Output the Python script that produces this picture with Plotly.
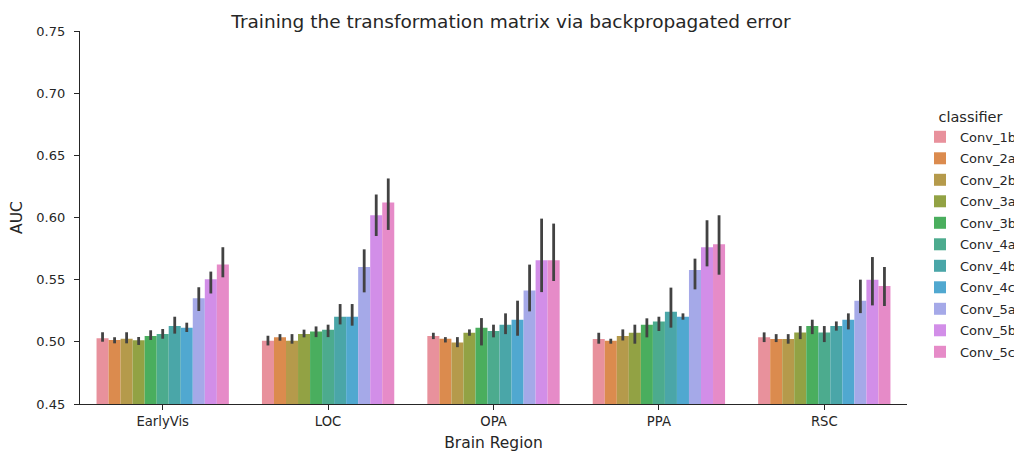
import plotly.graph_objects as go

regions = ["EarlyVis", "LOC", "OPA", "PPA", "RSC"]
classifiers = ["Conv_1b", "Conv_2a", "Conv_2b", "Conv_3a", "Conv_3b", "Conv_4a",
               "Conv_4b", "Conv_4c", "Conv_5a", "Conv_5b", "Conv_5c"]
colors = ["#e8919c", "#db8b4e", "#b59a4b", "#92a244", "#4aae5e", "#4cab8e",
          "#4aa6a8", "#50a8d0", "#a5a9e8", "#d28ee8", "#e68bc8"]

# mean AUC per classifier, one value per region (EarlyVis, LOC, OPA, PPA, RSC)
auc = {
    "Conv_1b": [0.5029, 0.5009, 0.5046, 0.5022, 0.5036],
    "Conv_2a": [0.5015, 0.5036, 0.5025, 0.5009, 0.5022],
    "Conv_2b": [0.5025, 0.5009, 0.4995, 0.5046, 0.5022],
    "Conv_3a": [0.5012, 0.5062, 0.5073, 0.5073, 0.5076],
    "Conv_3b": [0.5047, 0.5084, 0.5114, 0.5138, 0.5127],
    "Conv_4a": [0.5063, 0.5098, 0.5087, 0.5164, 0.5076],
    "Conv_4b": [0.5128, 0.5202, 0.5138, 0.5242, 0.5127],
    "Conv_4c": [0.5114, 0.5202, 0.5178, 0.5202, 0.5178],
    "Conv_5a": [0.5350, 0.5602, 0.5412, 0.5578, 0.5331],
    "Conv_5b": [0.5503, 0.6018, 0.5656, 0.5760, 0.5500],
    "Conv_5c": [0.5621, 0.6120, 0.5656, 0.5784, 0.5449],
}
# confidence interval upper / lower bounds
ci_high = {
    "Conv_1b": [0.5077, 0.5049, 0.5073, 0.5073, 0.5076],
    "Conv_2a": [0.5037, 0.5062, 0.5038, 0.5025, 0.5062],
    "Conv_2b": [0.5077, 0.5062, 0.5038, 0.5100, 0.5062],
    "Conv_3a": [0.5039, 0.5098, 0.5100, 0.5138, 0.5127],
    "Conv_3b": [0.5093, 0.5124, 0.5191, 0.5189, 0.5178],
    "Conv_4a": [0.5103, 0.5138, 0.5138, 0.5202, 0.5127],
    "Conv_4b": [0.5202, 0.5304, 0.5229, 0.5436, 0.5164],
    "Conv_4c": [0.5154, 0.5304, 0.5331, 0.5229, 0.5229],
    "Conv_5a": [0.5439, 0.5744, 0.5621, 0.5669, 0.5500],
    "Conv_5b": [0.5565, 0.6185, 0.5991, 0.5978, 0.5682],
    "Conv_5c": [0.5761, 0.6314, 0.5951, 0.6018, 0.5602],
}
ci_low = {
    "Conv_1b": [0.5001, 0.4971, 0.5022, 0.4985, 0.4998],
    "Conv_2a": [0.4988, 0.5009, 0.4995, 0.4985, 0.4998],
    "Conv_2b": [0.4988, 0.4985, 0.4957, 0.5011, 0.4985],
    "Conv_3a": [0.4975, 0.5036, 0.5049, 0.4985, 0.5022],
    "Conv_3b": [0.5015, 0.5038, 0.4971, 0.5036, 0.5062],
    "Conv_4a": [0.5025, 0.5038, 0.5036, 0.5087, 0.4998],
    "Conv_4b": [0.5066, 0.5140, 0.5062, 0.5114, 0.5090],
    "Conv_4c": [0.5079, 0.5130, 0.5049, 0.5178, 0.5100],
    "Conv_5a": [0.5248, 0.5398, 0.5245, 0.5422, 0.5231],
    "Conv_5b": [0.5389, 0.5851, 0.5400, 0.5607, 0.5293],
    "Conv_5c": [0.5519, 0.5900, 0.5489, 0.5540, 0.5288],
}
yticks = [0.45, 0.50, 0.55, 0.60, 0.65, 0.70, 0.75]

FONT = "DejaVu Sans"
# the page body has an 8px margin, so the figure is 8px smaller on each axis
W, H = 1014, 445
ML, MR, MT, MB = 72, 115, 23, 49
PW = W - ML - MR
fig = go.Figure()
for name, col in zip(classifiers, colors):
    vals = auc[name]
    hi = [h - v for h, v in zip(ci_high[name], vals)]
    lo = [v - l for l, v in zip(ci_low[name], vals)]
    fig.add_trace(go.Bar(
        x=regions, y=vals, name=name, legendgroup=name,
        marker=dict(color=col, line=dict(width=0)),
        error_y=dict(type="data", symmetric=False, array=hi, arrayminus=lo,
                     color="#424242", thickness=2.8, width=0),
    ))

fig.update_layout(
    width=W, height=H,
    margin=dict(l=ML, r=MR, t=MT, b=MB, autoexpand=False),
    plot_bgcolor="white", paper_bgcolor="white",
    barmode="group", bargap=0.2, bargroupgap=0,
    font=dict(family=FONT, size=13, color="#262626"),
    title=dict(text="Training the transformation matrix via backpropagated error",
               x=503 / W, xref="container", xanchor="center",
               y=1 - 14 / H, yref="container", yanchor="middle",
               automargin=False,
               font=dict(family=FONT, size=18.5, color="#262626")),
    legend=dict(
        title=dict(text="classifier", side="top center",
                   font=dict(family=FONT, size=14.5, color="#262626")),
        x=(W - ML - 1) / PW, xanchor="right", y=0.807, yanchor="top",
        tracegroupgap=1.6, font=dict(family=FONT, size=13, color="#262626"),
        bgcolor="rgba(0,0,0,0)",
    ),
    showlegend=True,
)
fig.update_xaxes(
    title=dict(text="Brain Region", font=dict(size=15.5), standoff=9),
    showline=True, linecolor="#262626", linewidth=1.25,
    ticks="outside", ticklen=5, tickcolor="#262626", tickwidth=1.25,
    showgrid=False, zeroline=False, range=[-0.5, 4.5],
    tickfont=dict(size=13.2), automargin=False,
)
fig.update_yaxes(
    title=dict(text="AUC", font=dict(size=15.5), standoff=9),
    range=[0.45, 0.75], tickvals=yticks, ticktext=[f"{t:.2f}" for t in yticks],
    showline=True, linecolor="#262626", linewidth=1.25,
    ticks="outside", ticklen=5, tickcolor="#262626", tickwidth=1.25,
    ticklabelstandoff=6,
    showgrid=False, zeroline=False, tickfont=dict(size=13), automargin=False,
)
fig.write_html("out.html")
